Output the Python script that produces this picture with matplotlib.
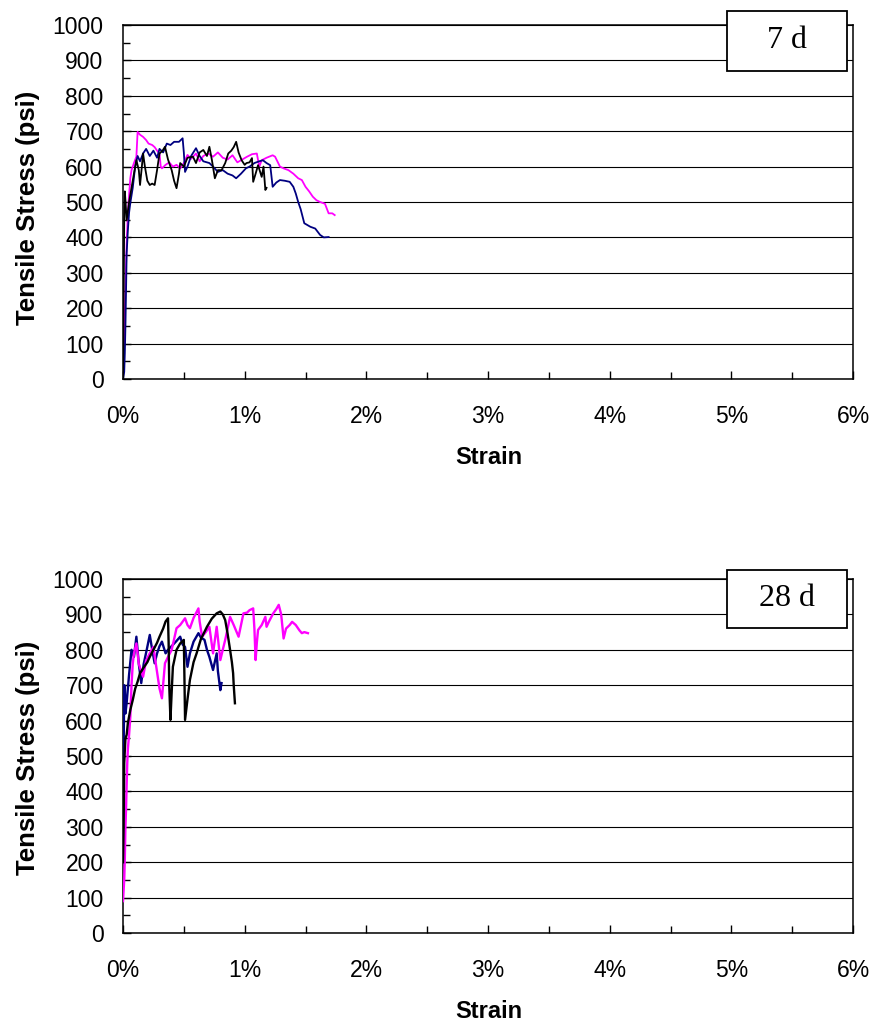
import matplotlib
matplotlib.use("Agg")
import matplotlib.pyplot as plt
from matplotlib.patches import Rectangle
from matplotlib.ticker import MultipleLocator, FuncFormatter

# ---------------- data (strain in %, stress in psi) ----------------
panel_labels = ["7 d", "28 d"]
x_tick_labels = ["0%", "1%", "2%", "3%", "4%", "5%", "6%"]
y_tick_values = [0, 100, 200, 300, 400, 500, 600, 700, 800, 900, 1000]

# 7 d
strain7_magenta = [0.00, 0.01, 0.02, 0.03, 0.04, 0.05, 0.06, 0.07, 0.09, 0.11, 0.12, 0.14, 0.165,
                   0.19, 0.21, 0.24, 0.26, 0.28, 0.30, 0.31, 0.32, 0.35, 0.38, 0.41, 0.44, 0.47,
                   0.50, 0.53, 0.56, 0.60, 0.63, 0.66, 0.70, 0.74, 0.78, 0.82, 0.86, 0.90, 0.94,
                   0.98, 1.02, 1.06, 1.10, 1.12, 1.14, 1.18, 1.23, 1.25, 1.29, 1.32, 1.36, 1.40,
                   1.44, 1.47, 1.50, 1.53, 1.56, 1.59, 1.62, 1.66, 1.69, 1.72, 1.74]
stress7_magenta = [0, 120, 260, 380, 470, 520, 567, 590, 610, 628, 698, 690, 684,
                   675, 665, 661, 655, 645, 637, 600, 595, 605, 612, 600, 605, 595,
                   610, 633, 622, 637, 615, 630, 637, 628, 640, 625, 620, 632, 612,
                   620, 628, 635, 637, 600, 618, 625, 632, 628, 600, 595, 590, 580,
                   567, 562, 543, 530, 515, 505, 500, 495, 468, 468, 463]

strain7_navy = [0.00, 0.01, 0.015, 0.02, 0.025, 0.03, 0.04, 0.05, 0.06, 0.08, 0.10, 0.12, 0.14,
                0.165, 0.19, 0.22, 0.25, 0.28, 0.30, 0.33, 0.36, 0.39, 0.42, 0.46, 0.49, 0.50,
                0.51, 0.53, 0.56, 0.60, 0.63, 0.66, 0.71, 0.74, 0.78, 0.82, 0.86, 0.90, 0.93,
                0.97, 1.01, 1.04, 1.08, 1.12, 1.15, 1.18, 1.21, 1.23, 1.26, 1.29, 1.33, 1.37,
                1.40, 1.42, 1.44, 1.46, 1.49, 1.54, 1.58, 1.62, 1.65, 1.69]
stress7_navy = [0, 20, 73, 150, 250, 355, 420, 470, 497, 540, 600, 630, 615,
                637, 650, 630, 645, 625, 650, 640, 665, 661, 670, 670, 680, 640,
                585, 600, 630, 652, 630, 615, 610, 600, 585, 590, 580, 575, 567,
                580, 595, 600, 610, 615, 618, 610, 604, 543, 555, 562, 560, 557,
                543, 524, 500, 480, 440, 430, 425, 407, 400, 401]

strain7_black = [0.00, 0.005, 0.01, 0.015, 0.02, 0.03, 0.05, 0.07, 0.09, 0.11, 0.13, 0.14, 0.155,
                 0.165, 0.18, 0.20, 0.22, 0.24, 0.26, 0.28, 0.30, 0.325, 0.345, 0.37, 0.40, 0.42,
                 0.44, 0.46, 0.47, 0.50, 0.53, 0.575, 0.60, 0.63, 0.66, 0.69, 0.71, 0.73, 0.755,
                 0.78, 0.81, 0.84, 0.865, 0.89, 0.91, 0.93, 0.95, 0.975, 1.00, 1.015, 1.04, 1.06,
                 1.07, 1.09, 1.11, 1.14, 1.155, 1.17, 1.18]
stress7_black = [0, 200, 450, 530, 505, 448, 500, 540, 580, 618, 590, 548, 600,
                 637, 600, 560, 548, 552, 548, 590, 637, 645, 656, 620, 590, 560,
                 539, 580, 610, 600, 625, 628, 610, 640, 647, 630, 656, 620, 567,
                 590, 590, 610, 637, 645, 655, 670, 640, 618, 605, 610, 612, 624,
                 557, 580, 604, 571, 600, 534, 540]

# 28 d
strain28_magenta = [0.00, 0.01, 0.015, 0.02, 0.025, 0.03, 0.035, 0.04, 0.05, 0.06, 0.07, 0.08, 0.09,
                    0.11, 0.13, 0.165, 0.19, 0.22, 0.25, 0.27, 0.30, 0.32, 0.345, 0.37, 0.40, 0.42,
                    0.44, 0.47, 0.51, 0.53, 0.55, 0.58, 0.62, 0.63, 0.65, 0.68, 0.71, 0.74, 0.77,
                    0.80, 0.82, 0.84, 0.86, 0.88, 0.91, 0.95, 0.97, 0.99, 1.02, 1.04, 1.07, 1.08,
                    1.09, 1.10, 1.11, 1.14, 1.17, 1.18, 1.20, 1.235, 1.26, 1.28, 1.30, 1.32, 1.34,
                    1.37, 1.39, 1.42, 1.45, 1.47, 1.49, 1.52]
stress28_magenta = [90, 150, 210, 300, 350, 420, 480, 520, 560, 611, 700, 760, 790,
                    818, 760, 724, 770, 790, 808, 760, 691, 663, 762, 780, 800, 830,
                    861, 870, 889, 870, 861, 890, 917, 880, 837, 850, 865, 790, 865,
                    771, 800, 828, 860, 893, 870, 837, 870, 903, 905, 912, 917, 860,
                    771, 820, 856, 870, 893, 865, 880, 903, 915, 927, 900, 832, 860,
                    870, 879, 870, 855, 847, 850, 847]

strain28_navy = [0.00, 0.005, 0.01, 0.015, 0.02, 0.03, 0.05, 0.07, 0.09, 0.11, 0.13, 0.15, 0.17,
                 0.195, 0.22, 0.24, 0.26, 0.28, 0.30, 0.32, 0.35, 0.37, 0.41, 0.44, 0.47, 0.49,
                 0.51, 0.53, 0.55, 0.58, 0.62, 0.64, 0.67, 0.69, 0.71, 0.74, 0.77, 0.78, 0.80,
                 0.81]
stress28_navy = [200, 500, 700, 686, 620, 650, 730, 800, 780, 837, 760, 706, 760,
                 800, 842, 800, 762, 790, 810, 823, 790, 800, 814, 825, 837, 815,
                 808, 752, 790, 823, 847, 835, 828, 800, 780, 743, 790, 740, 686,
                 706]

strain28_black = [0.00, 0.005, 0.01, 0.02, 0.03, 0.04, 0.06, 0.08, 0.10, 0.12, 0.14, 0.17, 0.20,
                  0.22, 0.25, 0.28, 0.30, 0.33, 0.35, 0.37, 0.375, 0.38, 0.39, 0.40, 0.41, 0.44,
                  0.47, 0.50, 0.505, 0.51, 0.53, 0.55, 0.58, 0.605, 0.64, 0.69, 0.73, 0.77, 0.80,
                  0.82, 0.84, 0.86, 0.88, 0.895, 0.905, 0.91, 0.92]
stress28_black = [200, 300, 480, 550, 560, 593, 630, 658, 690, 710, 734, 750, 765,
                  780, 800, 820, 837, 860, 880, 889, 820, 700, 602, 680, 752, 800,
                  818, 828, 720, 602, 660, 715, 765, 790, 830, 865, 888, 903, 908,
                  900, 884, 845, 800, 765, 734, 700, 649]

# ---------------- figure ----------------
W, H = 875, 1025
fig = plt.figure(figsize=(W / 100, H / 100), dpi=100)
fig.patch.set_facecolor("white")

SANS = ["Liberation Sans", "DejaVu Sans"]
SERIF = ["Liberation Serif", "DejaVu Serif"]

def fx(px):
    return px / W

def fy(py):
    return 1 - py / H

panels = [
    dict(top=25, label=panel_labels[0], box=(727, 11, 847, 71), ylab=208, xlab=458, lw=1.3,
         series=[(strain7_magenta, stress7_magenta, "#FF00FF"),
                 (strain7_navy, stress7_navy, "#000080"),
                 (strain7_black, stress7_black, "#000000")]),
    dict(top=579, label=panel_labels[1], box=(727, 570, 847, 628), ylab=758, xlab=1012, lw=1.7,
         series=[(strain28_navy, stress28_navy, "#000080"),
                 (strain28_magenta, stress28_magenta, "#FF00FF"),
                 (strain28_black, stress28_black, "#000000")]),
]

for p in panels:
    top = p["top"]
    bottom = top + 354
    ax = fig.add_axes([fx(123), fy(bottom), fx(853) - fx(123), fy(top) - fy(bottom)])
    for xs, ys, c in p["series"]:
        ax.plot([v / 100 for v in xs], ys, color=c, lw=p["lw"], zorder=3)
    ax.set_xlim(0, 0.06)
    ax.set_ylim(0, 1000)
    ax.xaxis.set_major_locator(MultipleLocator(0.01))
    ax.xaxis.set_minor_locator(MultipleLocator(0.005))
    ax.yaxis.set_major_locator(MultipleLocator(100))
    ax.yaxis.set_minor_locator(MultipleLocator(50))
    ax.set_xticks([i / 100 for i in range(len(x_tick_labels))])
    ax.set_xticklabels(x_tick_labels)
    ax.set_yticks(y_tick_values)
    ax.set_yticklabels([str(v) for v in y_tick_values])
    ax.tick_params(axis="both", which="both", direction="in", color="black", width=1.0)
    ax.tick_params(axis="both", which="major", length=6)
    ax.tick_params(axis="both", which="minor", length=5)
    ax.tick_params(axis="y", which="both", right=False)
    ax.tick_params(axis="x", which="both", top=False)
    ax.tick_params(axis="y", which="major", pad=14, labelsize=16.5)
    ax.tick_params(axis="x", which="major", pad=19, labelsize=16.5)
    for t in ax.get_xticklabels() + ax.get_yticklabels():
        t.set_family(SANS)
    ax.yaxis.grid(True, which="major", color="black", lw=0.8, zorder=1)
    ax.set_axisbelow(True)
    for s in ax.spines.values():
        s.set_color("black")
        s.set_linewidth(1.1)

    fig.text(fx(27.5), fy(p["ylab"]), "Tensile Stress (psi)", rotation=90, ha="center",
             va="center", fontsize=18.5, fontweight="bold", family=SANS)
    fig.text(fx(489), fy(p["xlab"]), "Strain", ha="center", va="center",
             fontsize=17, fontweight="bold", family=SANS)

    x0, y0, x1, y1 = p["box"]
    fig.add_artist(Rectangle((fx(x0), fy(y1)), fx(x1) - fx(x0), fy(y0) - fy(y1),
                             transform=fig.transFigure, facecolor="white",
                             edgecolor="black", lw=1.3, zorder=10))
    fig.text(fx((x0 + x1) / 2), fy((y0 + y1) / 2), p["label"], ha="center", va="center",
             fontsize=23, family=SERIF, zorder=11)

fig.savefig("out.png", dpi=100)
